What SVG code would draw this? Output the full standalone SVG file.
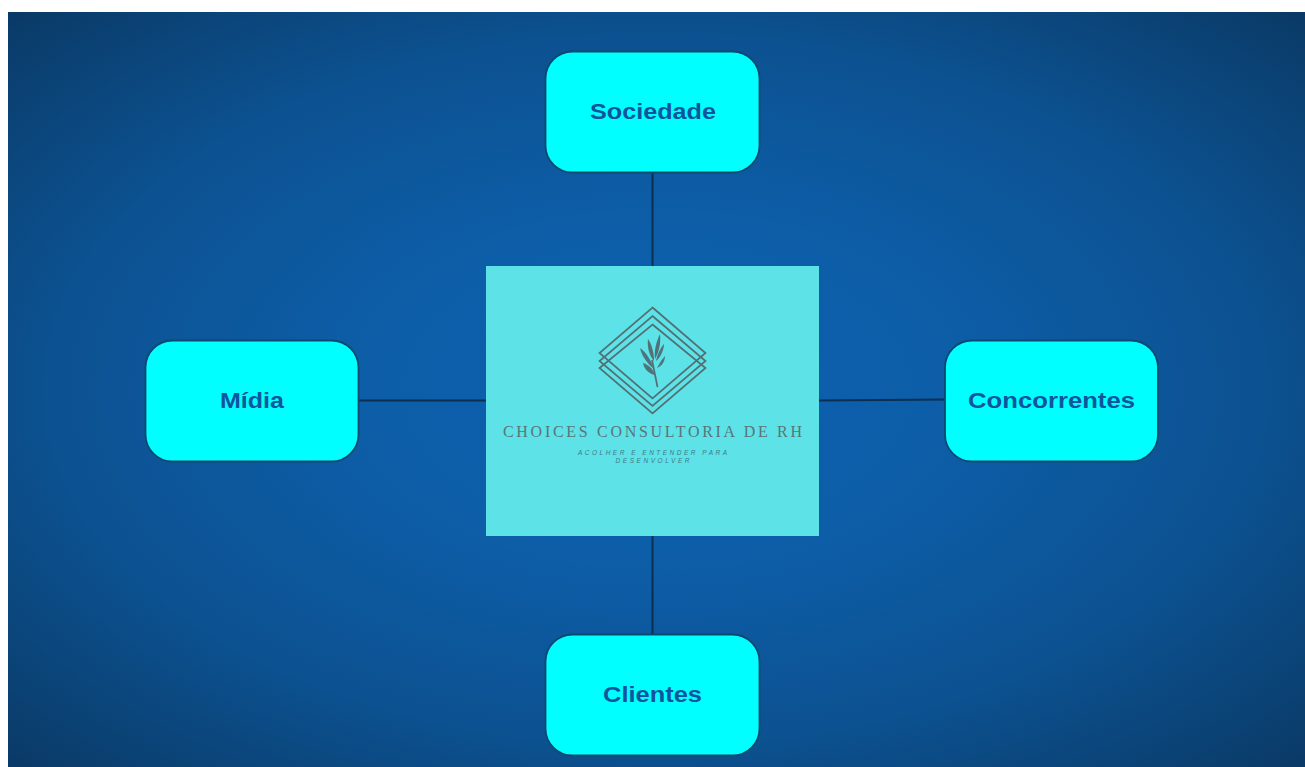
<svg xmlns="http://www.w3.org/2000/svg" width="1305" height="767" viewBox="0 0 1305 767">
<defs>
<radialGradient id="bg" cx="0.5" cy="0.5" r="0.707">
<stop offset="0" stop-color="#0d60ae"/>
<stop offset="0.3" stop-color="#0d5ea9"/>
<stop offset="0.65" stop-color="#0c5292"/>
<stop offset="1" stop-color="#0a3a66"/>
</radialGradient>
</defs>
<style>
.node{fill:#00ffff;stroke:#0a4a70;stroke-width:1.800}
.lbl{font-family:"Liberation Sans",Arial,sans-serif;font-weight:700;font-size:22px;fill:#0f559c;text-anchor:middle}
.conn{stroke:#0a2f50;stroke-width:2;fill:none}
.d{fill:none;stroke:#527073;stroke-width:1.700}
.leaf{fill:#4f7378}
</style>
<rect x="0" y="0" width="1305" height="767" fill="#ffffff"/>
<rect x="8" y="12" width="1297" height="755" fill="url(#bg)"/>
<g id="connectors">
<line class="conn" x1="652.500" y1="173" x2="652.500" y2="266"/>
<line class="conn" x1="652.500" y1="535" x2="652.500" y2="634"/>
<line class="conn" x1="359" y1="400.500" x2="486" y2="400.500"/>
<line class="conn" x1="819" y1="400.500" x2="945" y2="399.500"/>
</g>
<g id="node-sociedade">
<rect class="node" x="545.500" y="51.500" width="214" height="121" rx="27"/>
<text class="lbl" x="653" y="119" textLength="126" lengthAdjust="spacingAndGlyphs">Sociedade</text>
</g>
<g id="node-midia">
<rect class="node" x="145.500" y="340.500" width="213" height="121" rx="27"/>
<text class="lbl" x="252" y="408" textLength="64" lengthAdjust="spacingAndGlyphs">Mídia</text>
</g>
<g id="node-concorrentes">
<rect class="node" x="945" y="340.500" width="213" height="121" rx="27"/>
<text class="lbl" x="1051.500" y="408" textLength="167" lengthAdjust="spacingAndGlyphs">Concorrentes</text>
</g>
<g id="node-clientes">
<rect class="node" x="545.500" y="634.500" width="214" height="121" rx="27"/>
<text class="lbl" x="652.500" y="702" textLength="99" lengthAdjust="spacingAndGlyphs">Clientes</text>
</g>
<g id="node-choices">
<rect x="486" y="266" width="333" height="270" fill="#5de2e8"/>
<path class="d" d="M652.500 307.500L705.500 353L652.500 398.500L599.500 353Z"/>
<path class="d" d="M652.500 316L705.500 361L652.500 406L599.500 361Z"/>
<path class="d" d="M652.500 324.500L705.500 368L652.500 413.500L599.500 368Z"/>
<path class="d" d="M652 360L657.500 387" stroke-width="1.500"/>
<path class="leaf" d="M654 369C648 364 642 357 640 348C646 352 651 360 654 369Z"/>
<path class="leaf" d="M654 361C649 355 647 347 648 339C652 345 654 353 654 361Z"/>
<path class="leaf" d="M655 359C654 351 656 342 660 334C661 343 659 352 655 359Z"/>
<path class="leaf" d="M656 361C657 355 661 347 664 344C664 350 660 358 656 361Z"/>
<path class="leaf" d="M657 368C660 362 663 358 665 356C665 361 662 366 657 368Z"/>
<path class="leaf" d="M655 375C649 374 644 369 643 363C649 365 653 369 655 375Z"/>
<text x="652.500" y="437" text-anchor="middle" font-family="'Liberation Serif','Times New Roman',serif" font-size="16" fill="#5b7477" textLength="299" lengthAdjust="spacing">CHOICES CONSULTORIA DE RH</text>
<text x="652.500" y="455" text-anchor="middle" font-family="'Liberation Sans',Arial,sans-serif" font-style="italic" font-size="6.500" fill="#3f7a84" textLength="149" lengthAdjust="spacing">ACOLHER E ENTENDER PARA</text>
<text x="652.500" y="463" text-anchor="middle" font-family="'Liberation Sans',Arial,sans-serif" font-style="italic" font-size="6.500" fill="#3f7a84" textLength="74" lengthAdjust="spacing">DESENVOLVER</text>
</g>
</svg>
